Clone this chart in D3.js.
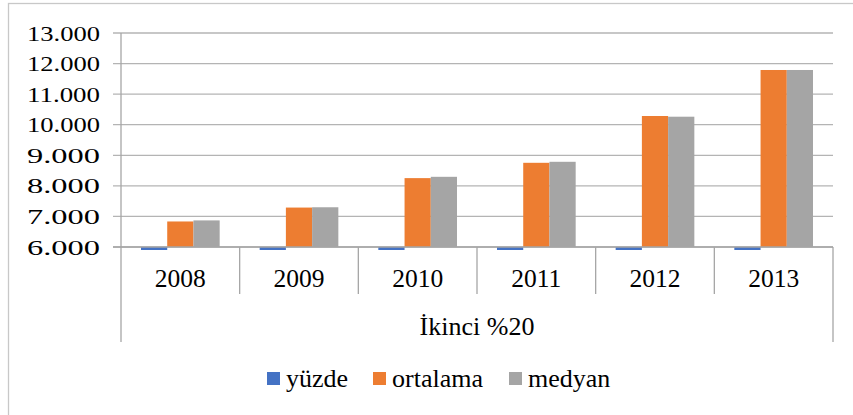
<!doctype html>
<html>
  <head>
    <meta charset="utf-8">
    <script src="https://cdn.jsdelivr.net/npm/d3@7"></script>
  </head>
  <body style="margin:0">
  </body>
  <script>
    // values
    var years = ["2008", "2009", "2010", "2011", "2012", "2013"];
    var seriesNames = ["yüzde", "ortalama", "medyan"];
    var yuzde = [20, 20, 20, 20, 20, 20];
    var ortalama = [6835, 7290, 8253, 8754, 10285, 11790];
    var medyan = [6870, 7300, 8296, 8787, 10262, 11790];
    var yTicks = [6000, 7000, 8000, 9000, 10000, 11000, 12000, 13000];
    var groupLabel = "İkinci %20";
    var colors = ["#4472c4", "#ed7d31", "#a5a5a5"];

    var width = 853, height = 415;
    var plot = {left: 121, right: 833, top: 33, bottom: 247};
    var serif = "'Liberation Serif'";
    var gridColor = "#b4b4b4", axisColor = "#a6a6a6";

    var svg = d3.select("body").append("svg")
        .attr("width", width)
        .attr("height", height);

    // outer chart frame (right/bottom edges fall off the picture)
    svg.append("rect")
        .attr("x", 8.5).attr("y", 3.5)
        .attr("width", 860).attr("height", 430)
        .attr("fill", "none")
        .attr("stroke", "#c8c8c8")
        .attr("stroke-width", 1.3);

    var y = d3.scaleLinear()
        .domain([6000, 13000])
        .range([plot.bottom, plot.top]);

    var x0 = d3.scaleBand()
        .domain(years)
        .range([plot.left, plot.right]);

    var bw = x0.bandwidth();
    var x1 = d3.scaleBand()
        .domain(seriesNames)
        .range([bw * 0.1685, bw * 0.8315]);

    // gridlines with short ticks left of the axis
    svg.append("g")
        .selectAll("line")
        .data(yTicks)
        .enter().append("line")
        .attr("x1", plot.left - 8)
        .attr("x2", plot.right)
        .attr("y1", function(d) { return y(d); })
        .attr("y2", function(d) { return y(d); })
        .attr("stroke", gridColor)
        .attr("stroke-width", 1.3);

    // y tick labels (stretched a bit wider like the original)
    var fmt = function(d) { return d3.format(",")(d).replace(/,/g, "."); };
    svg.append("g")
        .selectAll("text")
        .data(yTicks)
        .enter().append("text")
        .attr("x", 100)
        .attr("y", function(d) { return y(d) + 7.5; })
        .attr("text-anchor", "end")
        .style("font-family", serif)
        .style("font-size", "22px")
        .attr("textLength", 73)
        .attr("lengthAdjust", "spacingAndGlyphs")
        .text(fmt);

    // bars
    var data = years.map(function(yr, i) {
      return {year: yr, values: [yuzde[i], ortalama[i], medyan[i]]};
    });

    var groups = svg.append("g")
        .selectAll("g")
        .data(data)
        .enter().append("g")
        .attr("transform", function(d) { return "translate(" + x0(d.year) + ",0)"; });

    groups.selectAll("rect")
        .data(function(d) {
          return d.values.map(function(v, j) { return {name: seriesNames[j], value: v, idx: j}; });
        })
        .enter().append("rect")
        .attr("x", function(d) { return x1(d.name); })
        .attr("width", x1.bandwidth())
        .attr("y", function(d) {
          // values under the axis minimum show as a thin sliver under the baseline
          return d.value < y.domain()[0] ? y.range()[0] : y(d.value);
        })
        .attr("height", function(d) {
          return d.value < y.domain()[0] ? 3 : y.range()[0] - y(d.value);
        })
        .attr("fill", function(d) { return colors[d.idx]; });

    // axis lines
    function axisLine(x1, y1, x2, y2) {
      svg.append("line")
          .attr("x1", x1).attr("y1", y1)
          .attr("x2", x2).attr("y2", y2)
          .attr("stroke", axisColor)
          .attr("stroke-width", 1.3);
    }
    axisLine(plot.left, plot.top, plot.left, 342);
    axisLine(plot.right, plot.bottom, plot.right, 342);
    axisLine(plot.left - 8, plot.bottom, plot.right, plot.bottom);

    // category separators
    years.slice(1).forEach(function(d) {
      axisLine(x0(d), plot.bottom, x0(d), 294);
    });

    // year labels
    svg.append("g")
        .selectAll("text")
        .data(years)
        .enter().append("text")
        .attr("x", function(d) { return x0(d) + bw / 2; })
        .attr("y", 287)
        .attr("text-anchor", "middle")
        .style("font-family", serif)
        .style("font-size", "25.5px")
        .text(function(d) { return d; });

    // group label
    svg.append("text")
        .attr("x", (plot.left + plot.right) / 2)
        .attr("y", 335)
        .attr("text-anchor", "middle")
        .style("font-family", serif)
        .style("font-size", "26px")
        .text(groupLabel);

    // legend
    var legendX = [267, 373, 509];
    var legend = svg.append("g")
        .selectAll("g")
        .data(seriesNames)
        .enter().append("g")
        .attr("transform", function(d, i) { return "translate(" + legendX[i] + ",372)"; });

    legend.append("rect")
        .attr("width", 13)
        .attr("height", 13)
        .attr("fill", function(d, i) { return colors[i]; });

    legend.append("text")
        .attr("x", 19)
        .attr("y", 15)
        .style("font-family", serif)
        .style("font-size", "26px")
        .text(function(d) { return d; });
  </script>
</html>
